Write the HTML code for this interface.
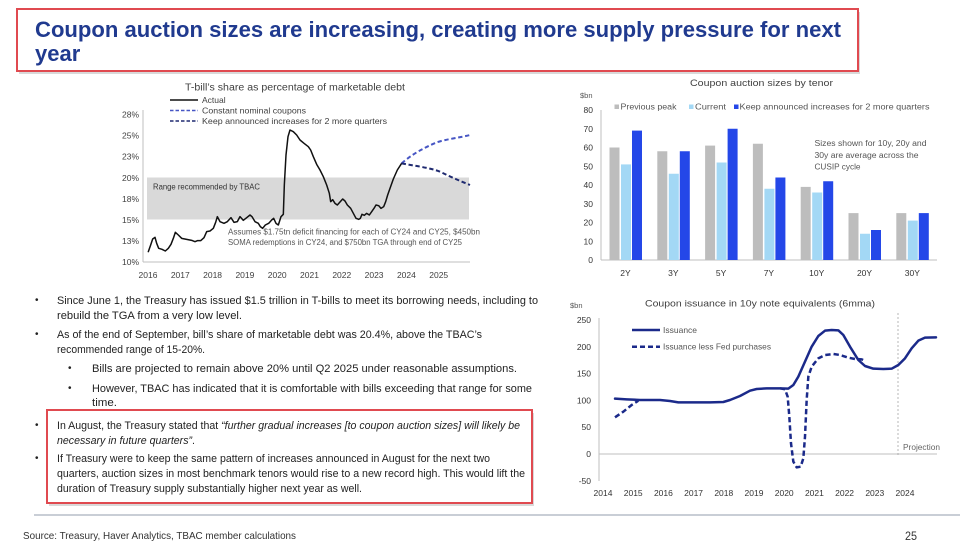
<!DOCTYPE html>
<html><head><meta charset="utf-8"><style>
html,body{margin:0;padding:0;background:#fff;}
svg{display:block;}
text{font-family:"Liberation Sans",sans-serif;}
</style></head><body>
<svg width="964" height="547" viewBox="0 0 964 547" xmlns="http://www.w3.org/2000/svg">
<rect width="964" height="547" fill="#fff"/>

<!-- Title box -->
<rect x="19" y="12" width="841" height="62" fill="#d9d9d9"/>
<rect x="17" y="9" width="841" height="62" fill="#fff" stroke="#e04a50" stroke-width="2"/>
<text x="35" y="37" font-size="22" font-weight="bold" fill="#203a8f" textLength="806" lengthAdjust="spacingAndGlyphs">Coupon auction sizes are increasing, creating more supply pressure for next</text>
<text x="35" y="61" font-size="22" font-weight="bold" fill="#203a8f">year</text>

<!-- ============ LEFT CHART ============ -->
<text x="185" y="90.5" font-size="10" fill="#404040" textLength="220" lengthAdjust="spacingAndGlyphs">T-bill’s share as percentage of marketable debt</text>
<!-- band -->
<rect x="147" y="177.5" width="322" height="42" fill="#d9d9d9"/>
<text x="153" y="189.5" font-size="8" fill="#333" textLength="107" lengthAdjust="spacingAndGlyphs">Range recommended by TBAC</text>
<!-- axes -->
<line x1="143" y1="110" x2="143" y2="262" stroke="#bfbfbf" stroke-width="1"/>
<line x1="143" y1="262" x2="470" y2="262" stroke="#bfbfbf" stroke-width="1"/>
<g font-size="8.5" fill="#404040" text-anchor="end">
<text x="139" y="117.5">28%</text>
<text x="139" y="138.6">25%</text>
<text x="139" y="159.7">23%</text>
<text x="139" y="180.8">20%</text>
<text x="139" y="201.9">18%</text>
<text x="139" y="223">15%</text>
<text x="139" y="244">13%</text>
<text x="139" y="265">10%</text>
</g>
<g font-size="8.5" fill="#404040" text-anchor="middle">
<text x="148" y="278">2016</text>
<text x="180.3" y="278">2017</text>
<text x="212.6" y="278">2018</text>
<text x="244.9" y="278">2019</text>
<text x="277.2" y="278">2020</text>
<text x="309.5" y="278">2021</text>
<text x="341.8" y="278">2022</text>
<text x="374.1" y="278">2023</text>
<text x="406.4" y="278">2024</text>
<text x="438.7" y="278">2025</text>
</g>
<text x="228" y="234.5" font-size="8" fill="#555" textLength="252" lengthAdjust="spacingAndGlyphs">Assumes $1.75tn deficit financing for each of CY24 and CY25, $450bn</text>
<text x="228" y="245" font-size="8" fill="#555" textLength="234" lengthAdjust="spacingAndGlyphs">SOMA redemptions in CY24, and $750bn TGA through end of CY25</text>
<!-- legend -->
<line x1="170" y1="100" x2="198" y2="100" stroke="#111" stroke-width="1.5"/>
<text x="202" y="103" font-size="8.5" fill="#404040">Actual</text>
<line x1="170" y1="110.5" x2="198" y2="110.5" stroke="#4756c4" stroke-width="1.6" stroke-dasharray="3.5,2"/>
<text x="202" y="113.5" font-size="8.5" fill="#404040" textLength="104" lengthAdjust="spacingAndGlyphs">Constant nominal coupons</text>
<line x1="170" y1="121" x2="198" y2="121" stroke="#1f2a70" stroke-width="1.6" stroke-dasharray="3.5,2"/>
<text x="202" y="124" font-size="8.5" fill="#404040" textLength="185" lengthAdjust="spacingAndGlyphs">Keep announced increases for 2 more quarters</text>
<!-- series -->
<g transform="translate(100,75) scale(0.33333)" fill="none" stroke-linejoin="round" stroke-linecap="round">
<path stroke="#111" stroke-width="4.5" d="M145,530 L152,510 L158,492 L165,487 L170,505 L176,520 L186,523 L196,528 L205,520 L213,508 L220,490 L226,472 L235,480 L245,490 L260,493 L275,496 L285,500 L292,497 L302,497 L312,488 L320,470 L330,468 L340,460 L347,442 L352,425 L360,440 L372,445 L382,440 L393,428 L402,442 L412,440 L420,425 L430,436 L440,428 L450,420 L456,425 L465,440 L475,445 L481,455 L488,460 L496,450 L506,445 L515,435 L521,430 L528,445 L535,450 L543,425 L550,418 L553,330 L558,240 L564,185 L570,165 L580,170 L590,180 L600,195 L612,205 L625,215 L632,225 L640,245 L650,268 L660,285 L670,305 L680,330 L688,355 L692,380 L698,374 L705,385 L712,390 L720,381 L728,372 L735,378 L742,390 L752,400 L760,415 L768,430 L776,433 L781,430 L786,418 L793,421 L800,415 L808,420 L815,410 L822,400 L828,390 L836,392 L843,400 L851,395 L857,380 L863,360 L870,340 L880,312 L892,285 L905,265"/>
<path stroke="#4756c4" stroke-width="6" stroke-dasharray="13,8" stroke-linecap="butt" d="M905,265 C925,248 950,228 1010,202 C1040,192 1080,188 1110,180"/>
<path stroke="#1f2a70" stroke-width="6" stroke-dasharray="13,8" stroke-linecap="butt" d="M905,265 C940,272 990,278 1020,290 C1050,305 1080,318 1110,330"/>
</g>

<!-- ============ TOP RIGHT BAR CHART ============ -->
<text x="690" y="86" font-size="9.5" fill="#404040" textLength="143" lengthAdjust="spacingAndGlyphs">Coupon auction sizes by tenor</text>
<text x="580" y="98" font-size="7.5" fill="#555">$bn</text>
<g font-size="8.5" fill="#333" text-anchor="end">
<text x="593" y="113">80</text>
<text x="593" y="131.8">70</text>
<text x="593" y="150.5">60</text>
<text x="593" y="169.3">50</text>
<text x="593" y="188">40</text>
<text x="593" y="206.8">30</text>
<text x="593" y="225.5">20</text>
<text x="593" y="244.3">10</text>
<text x="593" y="263">0</text>
</g>
<line x1="601" y1="110" x2="601" y2="260" stroke="#bfbfbf" stroke-width="1"/>
<line x1="601" y1="260" x2="937" y2="260" stroke="#bfbfbf" stroke-width="1"/>
<!-- legend -->
<rect x="614.5" y="104.5" width="4.5" height="4.5" fill="#bdbdbd"/>
<text x="620.5" y="109.5" font-size="8" fill="#555" textLength="56" lengthAdjust="spacingAndGlyphs">Previous peak</text>
<rect x="689" y="104.5" width="4.5" height="4.5" fill="#a3d8f5"/>
<text x="695" y="109.5" font-size="8" fill="#555" textLength="31" lengthAdjust="spacingAndGlyphs">Current</text>
<rect x="734" y="104.5" width="4.5" height="4.5" fill="#2447e8"/>
<text x="739.5" y="109.5" font-size="8" fill="#555" textLength="190" lengthAdjust="spacingAndGlyphs">Keep announced increases for 2 more quarters</text>
<!-- annotation -->
<text x="814.5" y="146" font-size="8" fill="#555" textLength="112" lengthAdjust="spacingAndGlyphs">Sizes shown for 10y, 20y and</text>
<text x="814.5" y="158" font-size="8" fill="#555" textLength="104" lengthAdjust="spacingAndGlyphs">30y are average across the</text>
<text x="814.5" y="169.5" font-size="8" fill="#555" textLength="46" lengthAdjust="spacingAndGlyphs">CUSIP cycle</text>
<!-- bars -->
<g>
<rect x="609.5" y="147.5" width="10" height="112.5" fill="#bdbdbd"/>
<rect x="621" y="164.4" width="10" height="95.6" fill="#a3d8f5"/>
<rect x="632" y="130.6" width="10" height="129.4" fill="#2447e8"/>

<rect x="657.3" y="151.25" width="10" height="108.75" fill="#bdbdbd"/>
<rect x="668.8" y="173.75" width="10" height="86.25" fill="#a3d8f5"/>
<rect x="679.8" y="151.25" width="10" height="108.75" fill="#2447e8"/>

<rect x="705.1" y="145.6" width="10" height="114.4" fill="#bdbdbd"/>
<rect x="716.6" y="162.5" width="10" height="97.5" fill="#a3d8f5"/>
<rect x="727.6" y="128.75" width="10" height="131.25" fill="#2447e8"/>

<rect x="752.9" y="143.75" width="10" height="116.25" fill="#bdbdbd"/>
<rect x="764.4" y="188.75" width="10" height="71.25" fill="#a3d8f5"/>
<rect x="775.4" y="177.5" width="10" height="82.5" fill="#2447e8"/>

<rect x="800.7" y="186.9" width="10" height="73.1" fill="#bdbdbd"/>
<rect x="812.2" y="192.5" width="10" height="67.5" fill="#a3d8f5"/>
<rect x="823.2" y="181.25" width="10" height="78.75" fill="#2447e8"/>

<rect x="848.5" y="213.1" width="10" height="46.9" fill="#bdbdbd"/>
<rect x="860" y="233.75" width="10" height="26.25" fill="#a3d8f5"/>
<rect x="871" y="230" width="10" height="30" fill="#2447e8"/>

<rect x="896.3" y="213.1" width="10" height="46.9" fill="#bdbdbd"/>
<rect x="907.8" y="220.6" width="10" height="39.4" fill="#a3d8f5"/>
<rect x="918.8" y="213.1" width="10" height="46.9" fill="#2447e8"/>
</g>
<g font-size="8.5" fill="#333" text-anchor="middle">
<text x="625.5" y="276">2Y</text>
<text x="673.3" y="276">3Y</text>
<text x="721.1" y="276">5Y</text>
<text x="768.9" y="276">7Y</text>
<text x="816.7" y="276">10Y</text>
<text x="864.5" y="276">20Y</text>
<text x="912.3" y="276">30Y</text>
</g>

<!-- ============ BOTTOM RIGHT LINE CHART ============ -->
<text x="645" y="306.5" font-size="9.5" fill="#404040" textLength="230" lengthAdjust="spacingAndGlyphs">Coupon issuance in 10y note equivalents (6mma)</text>
<text x="570" y="308" font-size="7.5" fill="#555">$bn</text>
<g font-size="8.5" fill="#333" text-anchor="end">
<text x="591" y="323">250</text>
<text x="591" y="349.8">200</text>
<text x="591" y="376.6">150</text>
<text x="591" y="403.4">100</text>
<text x="591" y="430.2">50</text>
<text x="591" y="457">0</text>
<text x="591" y="483.8">-50</text>
</g>
<line x1="599" y1="318" x2="599" y2="481" stroke="#bfbfbf" stroke-width="1"/>
<line x1="599" y1="454" x2="937" y2="454" stroke="#bfbfbf" stroke-width="1"/>
<g font-size="8.5" fill="#333" text-anchor="middle">
<text x="603" y="496">2014</text>
<text x="633.2" y="496">2015</text>
<text x="663.4" y="496">2016</text>
<text x="693.6" y="496">2017</text>
<text x="723.8" y="496">2018</text>
<text x="754" y="496">2019</text>
<text x="784.2" y="496">2020</text>
<text x="814.4" y="496">2021</text>
<text x="844.6" y="496">2022</text>
<text x="874.8" y="496">2023</text>
<text x="905" y="496">2024</text>
</g>
<line x1="898" y1="313" x2="898" y2="457" stroke="#a6a6a6" stroke-width="0.8" stroke-dasharray="2,2"/>
<text x="903" y="450" font-size="8" fill="#666" textLength="37" lengthAdjust="spacingAndGlyphs">Projection</text>
<!-- legend -->
<line x1="632" y1="330" x2="660" y2="330" stroke="#1b2a8a" stroke-width="2.5"/>
<text x="663" y="333" font-size="8.5" fill="#555">Issuance</text>
<line x1="632" y1="346.7" x2="660" y2="346.7" stroke="#1b2a8a" stroke-width="2.5" stroke-dasharray="5,3"/>
<text x="663" y="349.7" font-size="8.5" fill="#555" textLength="108" lengthAdjust="spacingAndGlyphs">Issuance less Fed purchases</text>
<g transform="translate(560,290) scale(0.33333)" fill="none" stroke="#1b2a8a" stroke-linejoin="round">
<path stroke-width="7.5" stroke-linecap="round" d="M165,326 L200,328 L240,330 L300,330 L330,333 L355,337 L400,337 L450,337 L490,336 L510,330 L540,318 L570,302 L590,297 L620,295 L660,295 L685,296 L700,285 L715,260 L735,215 L755,170 L775,138 L795,122 L815,120 L835,121 L850,135 L870,170 L895,210 L915,228 L940,236 L970,237 L995,236 L1015,225 L1035,205 L1055,175 L1075,152 L1095,143 L1128,142"/>
<path stroke-width="7.5" stroke-dasharray="16,9" d="M165,382 L190,365 L215,345 L235,332"/>
<path stroke-width="7.5" stroke-dasharray="16,9" d="M660,295 L675,298 L683,320 L688,380 L693,460 L700,515 L710,532 L722,530 L730,505 L735,440 L740,330 L745,260 L755,230 L775,205 L795,195 L820,192 L840,195 L865,203 L885,207 L905,208 L915,213"/>
</g>

<!-- ============ BULLETS ============ -->
<g font-size="11" fill="#222">
<text x="35" y="303" font-size="10">•</text>
<text x="57" y="304" textLength="481" lengthAdjust="spacingAndGlyphs">Since June 1, the Treasury has issued $1.5 trillion in T-bills to meet its borrowing needs, including to</text>
<text x="57" y="319" textLength="185" lengthAdjust="spacingAndGlyphs">rebuild the TGA from a very low level.</text>
<text x="35" y="337" font-size="10">•</text>
<text x="57" y="338" textLength="425" lengthAdjust="spacingAndGlyphs">As of the end of September, bill’s share of marketable debt was 20.4%, above the TBAC’s</text>
<text x="57" y="353" textLength="148" lengthAdjust="spacingAndGlyphs">recommended range of 15-20%.</text>
<text x="68" y="371" font-size="10">•</text>
<text x="92" y="372" textLength="425" lengthAdjust="spacingAndGlyphs">Bills are projected to remain above 20% until Q2 2025 under reasonable assumptions.</text>
<text x="68" y="391" font-size="10">•</text>
<text x="92" y="392" textLength="440" lengthAdjust="spacingAndGlyphs">However, TBAC has indicated that it is comfortable with bills exceeding that range for some</text>
<text x="92" y="406" textLength="25" lengthAdjust="spacingAndGlyphs">time.</text>
</g>
<!-- red box -->
<rect x="49" y="413" width="485" height="93" fill="#d9d9d9"/>
<rect x="47" y="410" width="485" height="93" fill="#fff" stroke="#e04a50" stroke-width="2"/>
<g font-size="11" fill="#222">
<text x="35" y="428" font-size="10">•</text>
<text x="57" y="429" textLength="463" lengthAdjust="spacingAndGlyphs">In August, the Treasury stated that <tspan font-style="italic">“further gradual increases [to coupon auction sizes] will likely be</tspan></text>
<text x="57" y="444" textLength="138" lengthAdjust="spacingAndGlyphs"><tspan font-style="italic">necessary in future quarters”</tspan>.</text>
<text x="35" y="461" font-size="10">•</text>
<text x="57" y="462" textLength="433" lengthAdjust="spacingAndGlyphs">If Treasury were to keep the same pattern of increases announced in August for the next two</text>
<text x="57" y="477" textLength="468" lengthAdjust="spacingAndGlyphs">quarters, auction sizes in most benchmark tenors would rise to a new record high. This would lift the</text>
<text x="57" y="492" textLength="305" lengthAdjust="spacingAndGlyphs">duration of Treasury supply substantially higher next year as well.</text>
</g>

<!-- footer -->
<line x1="34" y1="515" x2="960" y2="515" stroke="#c9ced6" stroke-width="2"/>
<text x="23" y="539" font-size="10.5" fill="#333" textLength="273" lengthAdjust="spacingAndGlyphs">Source: Treasury, Haver Analytics, TBAC member calculations</text>
<text x="905" y="540" font-size="12" fill="#333" textLength="12" lengthAdjust="spacingAndGlyphs">25</text>
</svg>
</body></html>
